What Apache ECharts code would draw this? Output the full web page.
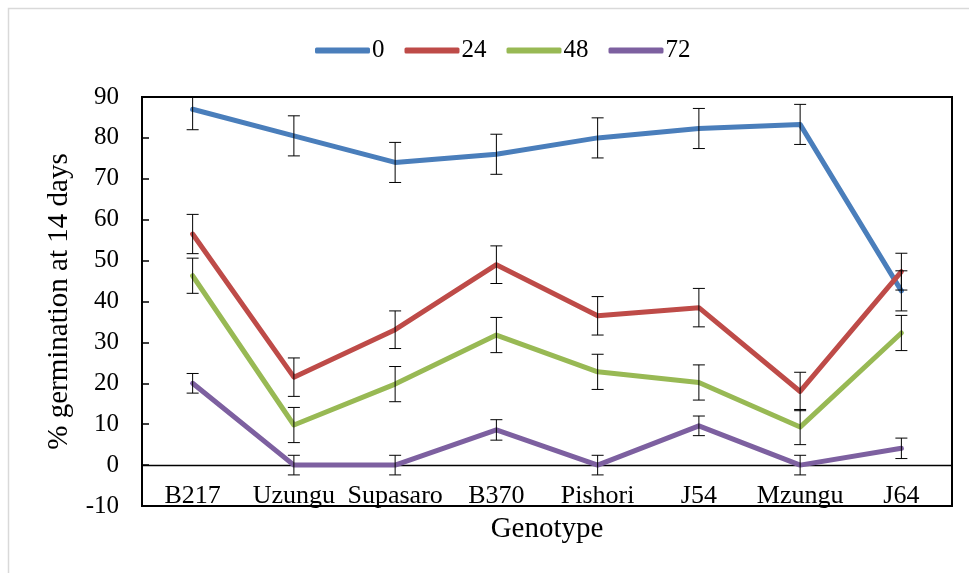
<!DOCTYPE html>
<html>
<head>
<meta charset="utf-8">
<script src="https://cdn.jsdelivr.net/npm/echarts@6/dist/echarts.min.js"></script>
<style>
  html, body { margin: 0; padding: 0; background: #fff; }
  #chart { width: 969px; height: 573px; }
</style>
</head>
<body>
<div id="chart"></div>
<script>
var categories = ['B217', 'Uzungu', 'Supasaro', 'B370', 'Pishori', 'J54', 'Mzungu', 'J64'];
var seriesNames = ['0', '24', '48', '72'];
var colors = ['#4A7EBB', '#BE4B48', '#98B954', '#7D60A0'];

var values0  = [87.0, 80.5, 74.0, 76.0, 80.0, 82.3, 83.3, 42.6];
var values24 = [56.5, 21.5, 33.1, 49.0, 36.5, 38.5, 18.0, 47.3];
var values48 = [46.3, 9.8, 19.8, 31.8, 22.8, 20.2, 9.3, 32.3];
var values72 = [20.0, 0, 0, 8.6, 0, 9.6, 0, 4.1];

var err0  = [5.0, 4.9, 4.9, 4.9, 4.9, 4.9, 4.9, 4.9];
var err24 = [4.8, 4.7, 4.6, 4.6, 4.7, 4.7, 4.7, 4.5];
var err48 = [4.3, 4.3, 4.3, 4.3, 4.3, 4.3, 4.3, 4.3];
var err72 = [2.4, 2.4, 2.4, 2.5, 2.4, 2.4, 2.4, 2.5];

var yTicks = { min: -10, max: 90, interval: 10 };

var allValues = [values0, values24, values48, values72];
var allErrs = [err0, err24, err48, err72];

var FONT = '"Liberation Serif", "Times New Roman", serif';

var chart = echarts.init(document.getElementById('chart'), null, { renderer: 'canvas' });

function errorRenderItem(params, api) {
  var cs = params.coordSys;
  var x = api.value(0);
  var lo = api.value(1);
  var hi = api.value(2);
  var pLo = api.coord([x, lo]);
  var pHi = api.coord([x, hi]);
  var cx = pLo[0];
  var yTop = pHi[1], yBot = pLo[1];
  var half = 6;
  var children = [];
  var topClipped = yTop < cs.y;
  var botClipped = yBot > cs.y + cs.height;
  var yt = Math.max(yTop, cs.y);
  var yb = Math.min(yBot, cs.y + cs.height);
  var st = { stroke: '#000', lineWidth: 1 };
  children.push({ type: 'line', shape: { x1: cx, y1: yt, x2: cx, y2: yb }, style: st });
  if (!topClipped) children.push({ type: 'line', shape: { x1: cx - half, y1: yTop, x2: cx + half, y2: yTop }, style: st });
  if (!botClipped) children.push({ type: 'line', shape: { x1: cx - half, y1: yBot, x2: cx + half, y2: yBot }, style: st });
  return { type: 'group', children: children };
}

var series = [];
for (var s = 0; s < 4; s++) {
  series.push({
    name: seriesNames[s],
    type: 'line',
    data: allValues[s],
    showSymbol: false,
    symbol: 'none',
    lineStyle: { color: colors[s], width: 5, cap: 'round', join: 'round' },
    itemStyle: { color: colors[s] },
    z: 2
  });
}
for (var s2 = 0; s2 < 4; s2++) {
  var d = [];
  for (var i = 0; i < categories.length; i++) {
    d.push([i, allValues[s2][i] - allErrs[s2][i], allValues[s2][i] + allErrs[s2][i]]);
  }
  series.push({
    type: 'custom',
    name: 'err' + seriesNames[s2],
    renderItem: errorRenderItem,
    data: d,
    z: 5,
    silent: true,
    encode: { x: 0, y: [1, 2] }
  });
}

chart.setOption({
  animation: false,
  backgroundColor: '#fff',
  graphic: [{
    type: 'rect',
    shape: { x: 8.5, y: 8.5, width: 1000, height: 700 },
    style: { fill: 'none', stroke: '#D9D9D9', lineWidth: 1.5 },
    z: 0, silent: true
  }],
  legend: {
    data: seriesNames,
    left: 310,
    top: 33,
    icon: 'roundRect',
    itemWidth: 55,
    itemHeight: 6,
    itemGap: 20,
    textStyle: { fontFamily: FONT, fontSize: 25, color: '#000', padding: [0, 0, 0, -3] }
  },
  grid: {
    left: 142, right: 17, top: 97, bottom: 67,
    containLabel: false,
    outerBoundsMode: 'none',
    show: true, borderColor: '#000', borderWidth: 2, backgroundColor: 'transparent'
  },
  xAxis: {
    type: 'category',
    data: categories,
    boundaryGap: true,
    name: 'Genotype',
    nameLocation: 'middle',
    nameGap: 9,
    nameMoveOverlap: false,
    nameTextStyle: { fontFamily: FONT, fontSize: 29, color: '#000' },
    axisLine: { onZero: true, lineStyle: { color: '#000', width: 1.3 } },
    axisTick: { show: false },
    axisLabel: { fontFamily: FONT, fontSize: 26, color: '#000', margin: -23, interval: 0 },
    splitLine: { show: false }
  },
  yAxis: {
    type: 'value',
    min: yTicks.min, max: yTicks.max, interval: yTicks.interval,
    name: '% germination at 14 days',
    nameLocation: 'middle',
    nameGap: 68,
    nameTextStyle: { fontFamily: FONT, fontSize: 29, color: '#000' },
    axisLine: { show: true, lineStyle: { color: '#000', width: 2 } },
    axisTick: { show: true, inside: true, length: 7, lineStyle: { color: '#000', width: 1.5 } },
    axisLabel: { fontFamily: FONT, fontSize: 25, color: '#000', margin: 23 },
    splitLine: { show: false }
  },
  series: series
});
</script>
</body>
</html>
